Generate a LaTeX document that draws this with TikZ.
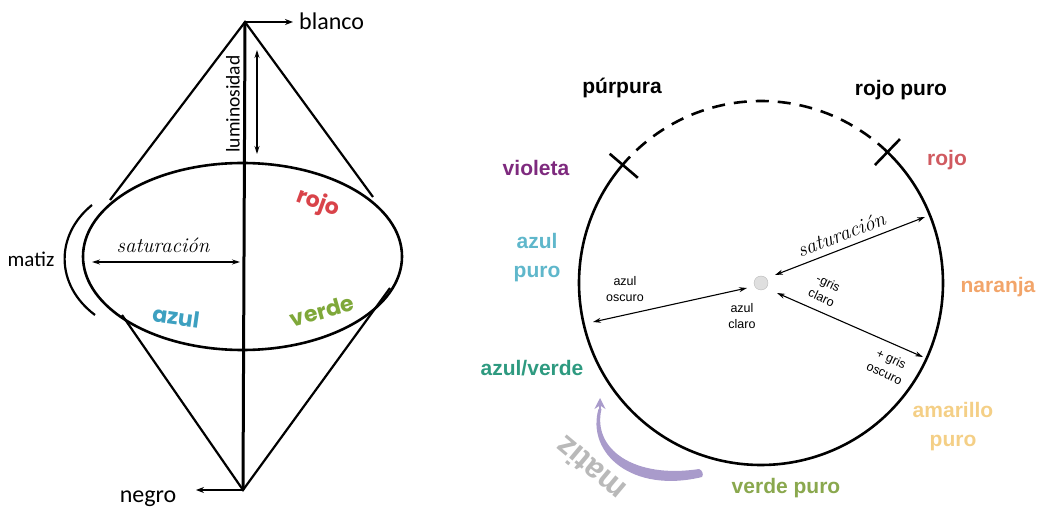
\documentclass[tikz,border=0pt]{standalone}
\usepackage{fontspec}
\newfontfamily\calfont{Carlito}
\newfontfamily\arialfont{Liberation Sans}
\newfontfamily\bubblefont{Poppins}
\usetikzlibrary{arrows.meta}
\definecolor{violetC}{HTML}{7E2A7E}
\definecolor{rojoC}{HTML}{D05A60}
\definecolor{azulC}{HTML}{5FB7CB}
\definecolor{naranjaC}{HTML}{F2A56A}
\definecolor{tealC}{HTML}{2E9A80}
\definecolor{amarilloC}{HTML}{F4CF86}
\definecolor{verdeC}{HTML}{8AA84E}
\definecolor{lavC}{HTML}{A99BCB}
\definecolor{redB}{HTML}{D9434A}
\definecolor{blueB}{HTML}{3DA0C0}
\definecolor{greenB}{HTML}{7FA83A}
\tikzstyle{hue_label} = [
    font=\arialfont\bfseries\fontsize{21}{29}\selectfont,
    align=center,
    inner sep=0pt
]
\tikzstyle{small_label} = [
    font=\arialfont\fontsize{12.5}{16}\selectfont,
    align=center,
    inner sep=0pt
]
\tikzstyle{cal_label} = [
    font=\calfont\fontsize{24}{28}\selectfont,
    inner sep=0pt
]
\tikzstyle{hand_label} = [
    font=\itshape\fontsize{21}{24}\selectfont,
    inner sep=0pt
]
\tikzstyle{bubble_label} = [
    font=\bubblefont\bfseries\fontsize{22}{24}\selectfont,
    inner sep=0pt
]
\tikzstyle{thin_arrow} = [
    {Stealth[length=8pt,width=5pt]}-{Stealth[length=8pt,width=5pt]},
    line width=1.1pt
]
\tikzstyle{thick_line} = [line width=2.6pt]

\begin{document}
\begin{tikzpicture}[x=1pt, y=1pt]
\useasboundingbox (0,0) rectangle (1042,509);

% double cone
\coordinate (top) at (245,487);
\coordinate (bot) at (243,19);
\coordinate (ell) at (242.5,252.5);
\coordinate (coneA) at (110,309);
\coordinate (coneB) at (373,312);
\coordinate (coneC) at (122,194);
\coordinate (coneD) at (390,221);
\draw[thick_line] (ell) ellipse [x radius=159.5, y radius=93.5];
\draw[line width=3pt] (top) -- (bot);
\draw[line width=2.2pt] (coneA) -- (top) -- (coneB);
\draw[line width=2.2pt] (coneC) -- (bot) -- (coneD);

\coordinate (blancoEnd) at (293,487);
\coordinate (negroEnd) at (196,19);
\draw[-{Stealth[length=8pt,width=6pt]}, line width=1.3pt] (top) -- (blancoEnd);
\draw[-{Stealth[length=8pt,width=6pt]}, line width=1.3pt] (bot) -- (negroEnd);
\node[cal_label, anchor=west] (blanco) at (299,488) {blanco};
\node[cal_label] (negro) at (148,10) {negro};

\coordinate (lumA) at (257,459);
\coordinate (lumB) at (257,355);
\draw[thin_arrow] (lumA) -- (lumB);
\node[font=\calfont\fontsize{19.5}{22}\selectfont, rotate=90, inner sep=0pt] (lum) at (233,405) {luminosidad};

\coordinate (satA) at (92,247);
\coordinate (satB) at (240,247);
\draw[thin_arrow] (satA) -- (satB);
\node[hand_label] (sat) at (163,264) {saturación};

\coordinate (matA) at (92,304);
\coordinate (matB) at (95,194);
\draw[line width=2.2pt] (matA) .. controls (55,274) and (55,224) .. (matB);
\node[cal_label, font=\calfont\fontsize{21}{24}\selectfont] (matiz) at (31,250) {matiz};

\node[bubble_label, text=redB, rotate=-20] (rojoL) at (318,306) {rojo};
\node[bubble_label, text=blueB, rotate=-8] (azulL) at (176,192) {azul};
\node[bubble_label, text=greenB, rotate=16] (verdeL) at (322,198) {verde};

% hue circle
\coordinate (o) at (761,226);
\draw[thick_line] ([shift={(139.5:182)}]o) arc[start angle=139.5, end angle=406, radius=182];
\draw[thick_line, dash pattern=on 13pt off 9pt] ([shift={(46:182)}]o) arc[start angle=46, end angle=139.5, radius=182];
\draw[thick_line] ([shift={(139.5:162)}]o) -- ([shift={(139.5:199)}]o);
\draw[thick_line] ([shift={(46:164)}]o) -- ([shift={(46:200)}]o);
\node[circle, fill=gray!25, draw=gray!55, minimum size=14pt, inner sep=0pt] (dot) at (o) {};

\coordinate (azulIn) at ([shift={(-14,-5)}]o);
\coordinate (azulOut) at ([shift={(-168,-39)}]o);
\coordinate (satIn) at ([shift={(14,8)}]o);
\coordinate (satOut) at ([shift={(164,66)}]o);
\coordinate (grisIn) at ([shift={(16,-10)}]o);
\coordinate (grisOut) at ([shift={(162,-74)}]o);
\draw[thin_arrow] (azulIn) -- (azulOut);
\draw[thin_arrow] (satIn) -- (satOut);
\draw[thin_arrow] (grisIn) -- (grisOut);

\node[small_label] (azulOsc) at (625,220) {azul\\oscuro};
\node[small_label] (azulCla) at (742,193) {azul\\claro};
\node[small_label, rotate=-25] (grisCla) at (825,219) {-gris\\claro};
\node[small_label, rotate=-25] (grisOsc) at (888,143) {+ gris\\oscuro};
\node[hand_label, rotate=21] (satR) at (841,275) {saturación};

\node[hue_label] (purpura) at (622,421) {púrpura};
\node[hue_label] (rojoPuro) at (901,419) {rojo puro};
\node[hue_label, text=violetC] (violeta) at (536,341) {violeta};
\node[hue_label, text=rojoC] (rojo) at (947,349) {rojo};
\node[hue_label, text=azulC] (azulPuro) at (537,251) {azul\\puro};
\node[hue_label, text=naranjaC] (naranja) at (998,222) {naranja};
\node[hue_label, text=tealC] (azulVerde) at (532,141) {azul/verde};
\node[hue_label, text=amarilloC] (amarillo) at (953,82) {amarillo\\puro};
\node[hue_label, text=verdeC] (verdePuro) at (786,21) {verde puro};

% tapered hue arrow
\coordinate (matNeck) at (600,100);
\coordinate (matHead) at (600,111);
\fill[lavC] (702,32) .. controls (632,15) and (586,56) .. (598.5,100)
    -- (601.5,100) .. controls (592,60) and (634,30) .. (699,40)
    .. controls (702,39) and (704,35) .. cycle;
\draw[lavC, line width=1.5pt, -{Stealth[length=11pt,width=11pt]}] (matNeck) -- (matHead);
\node[font=\arialfont\bfseries\fontsize{32}{34}\selectfont, text=gray!55, rotate=140, inner sep=0pt] (matizR) at (590,40) {matiz};
\end{tikzpicture}
\end{document}
